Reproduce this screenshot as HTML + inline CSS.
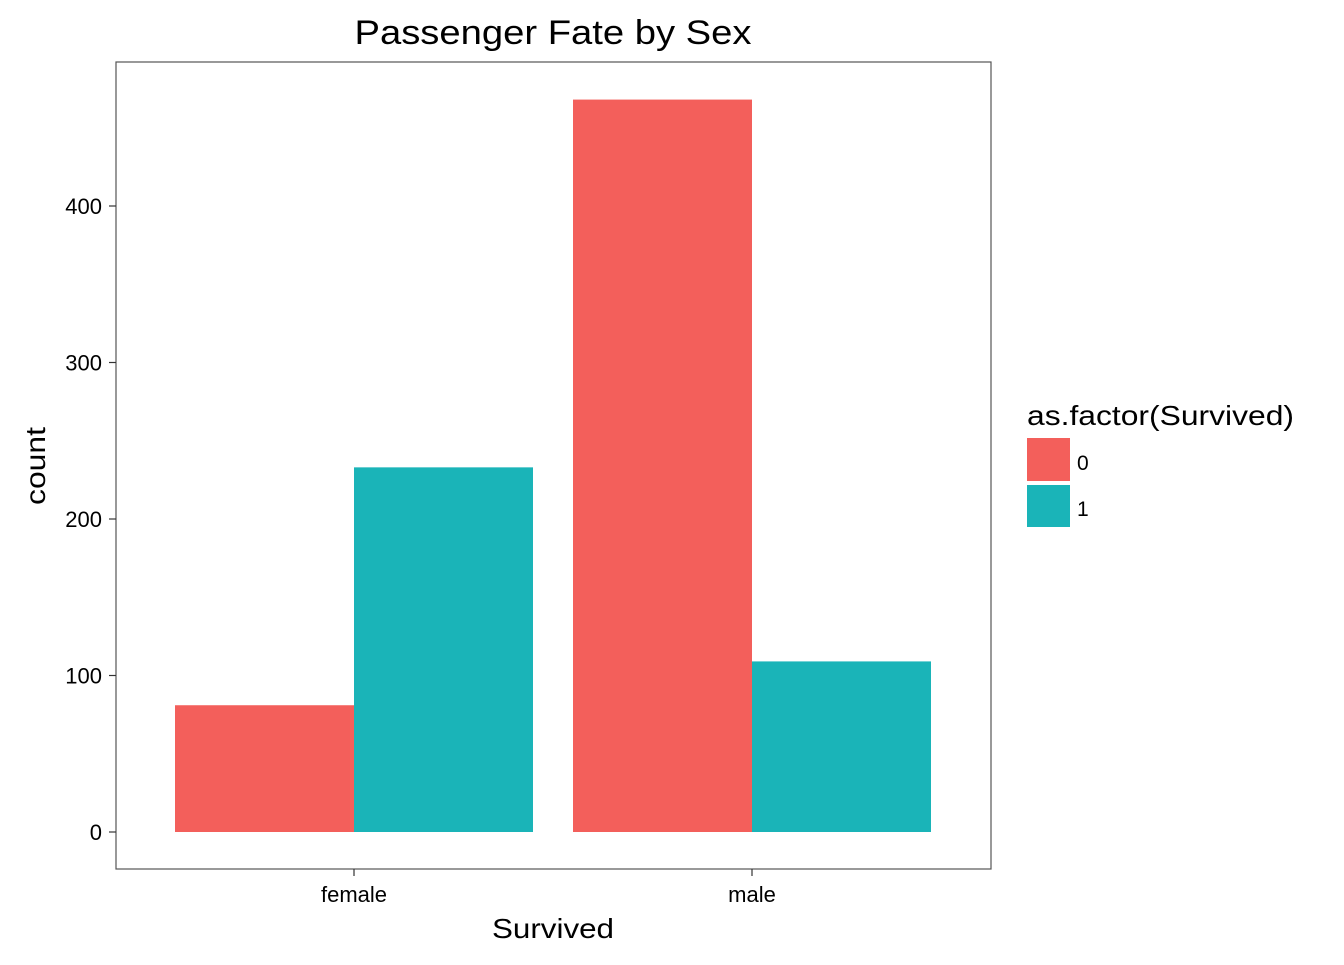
<!DOCTYPE html>
<html><head><meta charset="utf-8"><style>
body{margin:0;background:#fff;font-family:"Liberation Sans",Arial,sans-serif;}
</style></head><body>
<svg width="1344" height="960" xmlns="http://www.w3.org/2000/svg" font-family="Liberation Sans, Arial, sans-serif">
<text x="553" y="44" font-size="34" text-anchor="middle" textLength="397" lengthAdjust="spacingAndGlyphs" fill="#000">Passenger Fate by Sex</text>
<rect x="116" y="62" width="875" height="807" fill="#fff" stroke="#555" stroke-width="1.2"/>
<g id="bars"></g>
<g id="yaxis"></g>
<g id="xaxis"></g>
<text x="553" y="938" font-size="28" text-anchor="middle" textLength="122" lengthAdjust="spacingAndGlyphs">Survived</text>
<text transform="translate(45,466) rotate(-90)" font-size="28" text-anchor="middle" textLength="78" lengthAdjust="spacingAndGlyphs">count</text>
<g>
<text x="1027" y="425" font-size="28" textLength="267" lengthAdjust="spacingAndGlyphs">as.factor(Survived)</text>
<rect x="1027" y="438" width="43" height="43" fill="#F35F5B"/>
<text x="1077" y="470" font-size="21">0</text>
<rect x="1027" y="485" width="43" height="42" fill="#1AB4B8"/>
<text x="1077" y="516" font-size="21">1</text>
</g>
</svg>
<script>
const categories=["female","male"];
const survived0=[81,468];
const survived1=[233,109];
const yTicks=[0,100,200,300,400];
const colors=["#F35F5B","#1AB4B8"];
const NS="http://www.w3.org/2000/svg";
function yScale(v){return 832-v*1.565;}
function xCenter(i){return 354+i*398;}
const barW=179;
const bars=document.getElementById('bars');
[survived0,survived1].forEach((series,s)=>{
  series.forEach((v,i)=>{
    const r=document.createElementNS(NS,'rect');
    const x=xCenter(i)+(s===0?-barW:0);
    r.setAttribute('x',x);r.setAttribute('y',yScale(v));
    r.setAttribute('width',barW);r.setAttribute('height',yScale(0)-yScale(v));
    r.setAttribute('fill',colors[s]);
    
    
    bars.appendChild(r);
  });
});
const ya=document.getElementById('yaxis');
yTicks.forEach(t=>{
  const y=yScale(t);
  const l=document.createElementNS(NS,'line');
  l.setAttribute('x1',109);l.setAttribute('x2',116);l.setAttribute('y1',y);l.setAttribute('y2',y);
  l.setAttribute('stroke','#333');l.setAttribute('stroke-width','1.2');
  
  
  ya.appendChild(l);
  const tx=document.createElementNS(NS,'text');
  tx.setAttribute('x',102);tx.setAttribute('y',y+8);tx.setAttribute('font-size','22');tx.setAttribute('text-anchor','end');
  tx.textContent=t;
  
  
  ya.appendChild(tx);
});
const xa=document.getElementById('xaxis');
categories.forEach((c,i)=>{
  const x=xCenter(i);
  const l=document.createElementNS(NS,'line');
  l.setAttribute('x1',x);l.setAttribute('x2',x);l.setAttribute('y1',869);l.setAttribute('y2',876);
  l.setAttribute('stroke','#333');l.setAttribute('stroke-width','1.2');
  
  
  xa.appendChild(l);
  const tx=document.createElementNS(NS,'text');
  tx.setAttribute('x',x);tx.setAttribute('y',902);tx.setAttribute('font-size','22');tx.setAttribute('text-anchor','middle');
  tx.textContent=c;
  
  
  xa.appendChild(tx);
});
</script>
</body></html>
